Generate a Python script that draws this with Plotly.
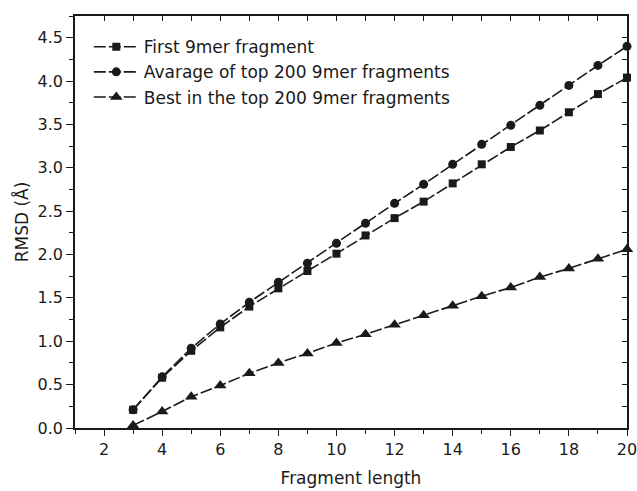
import plotly.graph_objects as go

fragment_length = list(range(3, 21))
first_9mer = [0.21, 0.58, 0.89, 1.16, 1.40, 1.61, 1.81, 2.01, 2.22, 2.42, 2.61, 2.82, 3.04, 3.24, 3.43, 3.64, 3.85, 4.04]
avg_top200 = [0.21, 0.59, 0.92, 1.20, 1.45, 1.68, 1.90, 2.13, 2.36, 2.59, 2.81, 3.04, 3.27, 3.49, 3.72, 3.95, 4.18, 4.40]
best_top200 = [0.03, 0.19, 0.36, 0.49, 0.63, 0.75, 0.86, 0.98, 1.08, 1.19, 1.30, 1.41, 1.52, 1.62, 1.74, 1.84, 1.95, 2.06]

series_names = ["First 9mer fragment", "Avarage of top 200 9mer fragments", "Best in the top 200 9mer fragments"]

FONT = "DejaVu Sans, Arial, sans-serif"
INK = "#1a1a1a"

fig = go.Figure()
styles = [("square", 8), ("circle", 9), ("triangle-up", 11)]
for name, ys, (sym, sz) in zip(series_names, [first_9mer, avg_top200, best_top200], styles):
    fig.add_trace(go.Scatter(
        x=fragment_length, y=ys, name=name, mode="lines+markers",
        line=dict(color=INK, width=1.6, dash="12px,3px"),
        marker=dict(symbol=sym, size=sz, color=INK),
        cliponaxis=False,
    ))

# invisible traces to activate top/right mirror axes
fig.add_trace(go.Scatter(x=[None], y=[None], xaxis="x2", yaxis="y", showlegend=False, hoverinfo="skip"))
fig.add_trace(go.Scatter(x=[None], y=[None], xaxis="x", yaxis="y2", showlegend=False, hoverinfo="skip"))

fig.update_layout(
    width=637, height=491,
    margin=dict(l=75, r=10, t=16, b=63, autoexpand=False),
    paper_bgcolor="white", plot_bgcolor="white",
    font=dict(family=FONT, color=INK, size=16),
    showlegend=True,
    legend=dict(x=0.025, y=0.968, xanchor="left", yanchor="top",
                bgcolor="rgba(0,0,0,0)", font=dict(size=17, family=FONT, color=INK),
                tracegroupgap=0, itemwidth=45),
    xaxis=dict(range=[1, 20], dtick=2, tick0=0, ticks="outside", ticklen=6, tickwidth=1.2,
               tickcolor=INK, showline=True, linecolor=INK, linewidth=1.5, showgrid=False,
               zeroline=False, tickfont=dict(size=16), automargin=False, ticklabeloverflow="allow",
               minor=dict(ticks="outside", ticklen=4, dtick=1, tick0=0, tickcolor=INK, tickwidth=1.2, showgrid=False),
               title=dict(text="Fragment length", font=dict(size=17), standoff=14)),
    yaxis=dict(range=[0, 4.75], dtick=0.5, tick0=0, ticks="outside", ticklen=7, tickwidth=1.2,
               tickcolor=INK, showline=True, linecolor=INK, linewidth=1.5, showgrid=False,
               zeroline=False, tickformat=".1f", tickfont=dict(size=16), automargin=False,
               ticklabeloverflow="allow",
               minor=dict(ticks="outside", ticklen=4, dtick=0.25, tick0=0, tickcolor=INK, tickwidth=1.2, showgrid=False),
               title=dict(text="RMSD (Å)", font=dict(size=17), standoff=5)),
    xaxis2=dict(overlaying="x", side="top", range=[1, 20], dtick=1, tick0=0, ticks="inside",
                ticklen=5, tickwidth=1.2, tickcolor=INK, showline=True, linecolor=INK, linewidth=1.5,
                showticklabels=False, showgrid=False, zeroline=False, matches="x", automargin=False),
    yaxis2=dict(overlaying="y", side="right", range=[0, 4.75], dtick=0.25, tick0=0, ticks="inside",
                ticklen=5, tickwidth=1.2, tickcolor=INK, showline=True, linecolor=INK, linewidth=1.5,
                showticklabels=False, showgrid=False, zeroline=False, matches="y", automargin=False),
)

fig.write_html("out.html", config={"displayModeBar": False},
               post_script="document.body.style.margin='0';")
